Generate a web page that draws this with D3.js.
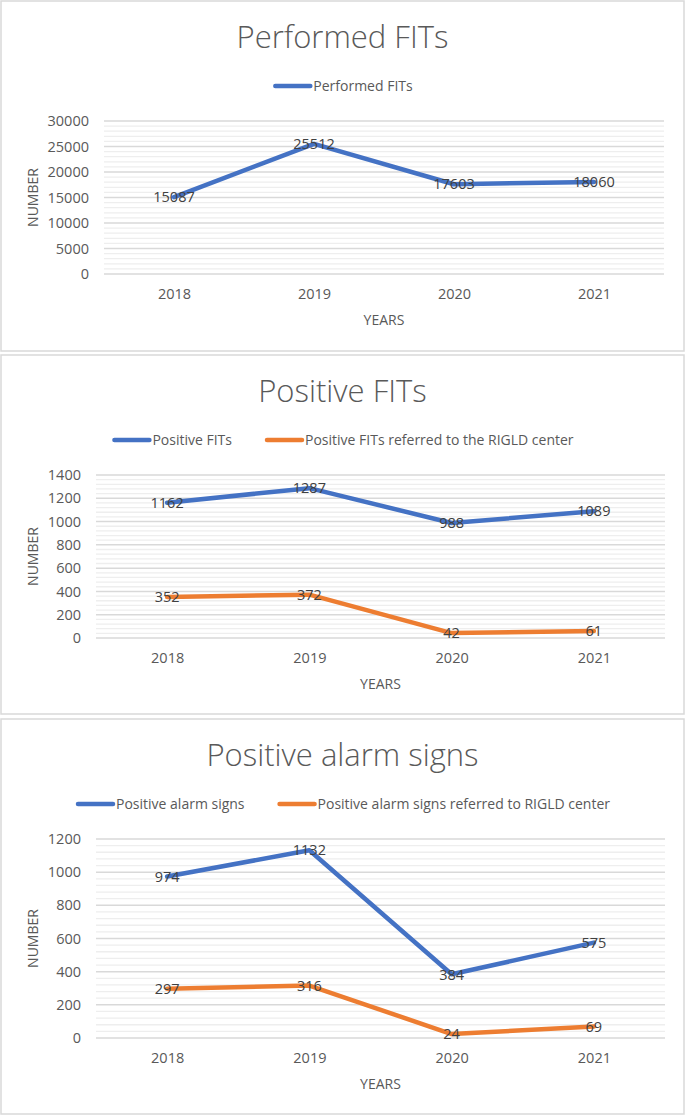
<!DOCTYPE html>
<html>
<head>
<meta charset="utf-8">
<script src="https://cdn.jsdelivr.net/npm/d3@7/dist/d3.min.js"></script>
<style>
  html, body { margin: 0; padding: 0; background: #ffffff; }
  svg { display: block; }
  text { font-family: "Open Sans", "DejaVu Sans", sans-serif; }
</style>
</head>
<body>
<svg id="chart" width="685" height="1116"></svg>
<script>
// ---------- data ----------
const years = ["2018", "2019", "2020", "2021"];

const performedFITs = [15087, 25512, 17603, 18060];

const positiveFITs = [1162, 1287, 988, 1089];
const positiveFITsReferred = [352, 372, 42, 61];

const alarmSigns = [974, 1132, 384, 575];
const alarmSignsReferred = [297, 316, 24, 69];

const ticksPerformed = [0, 5000, 10000, 15000, 20000, 25000, 30000];
const ticksPositive = [0, 200, 400, 600, 800, 1000, 1200, 1400];
const ticksAlarm = [0, 200, 400, 600, 800, 1000, 1200];

const titles = ["Performed FITs", "Positive FITs", "Positive alarm signs"];
const seriesNames1 = ["Performed FITs"];
const seriesNames2 = ["Positive FITs", "Positive FITs referred to the RIGLD center"];
const seriesNames3 = ["Positive alarm signs", "Positive alarm signs referred to RIGLD center"];

const xTitle = "YEARS";
const yTitle = "NUMBER";

// ---------- style ----------
const BLUE = "#4472C4", ORANGE = "#ED7D31";
const svg = d3.select("#chart");

function panel(cfg) {
  const g = svg.append("g");
  // frame
  g.append("rect")
    .attr("x", 1).attr("y", cfg.top)
    .attr("width", 683).attr("height", cfg.height)
    .attr("fill", "#fff").attr("stroke", "#d9d9d9").attr("stroke-width", 1.5);

  // title
  g.append("text")
    .attr("x", 342.5).attr("y", cfg.top + 47)
    .attr("text-anchor", "middle")
    .attr("font-size", 31).attr("font-weight", 300)
    .attr("fill", "#595959")
    .text(cfg.title);

  const x = d3.scalePoint().domain(years).range([cfg.x0, cfg.x1]).padding(0.5);
  const y = d3.scaleLinear().domain([0, cfg.ticks[cfg.ticks.length - 1]]).range([cfg.yBottom, cfg.yTop]);

  // minor gridlines
  const step = cfg.ticks[1] - cfg.ticks[0];
  const minor = d3.range(0, cfg.ticks[cfg.ticks.length - 1] + 1e-9, step / 5)
    .filter(v => !cfg.ticks.includes(v));
  g.append("g").selectAll("line").data(minor).join("line")
    .attr("x1", cfg.x0).attr("x2", cfg.x1)
    .attr("y1", d => y(d)).attr("y2", d => y(d))
    .attr("stroke", "#eeeeee").attr("stroke-width", 1.3);
  // major gridlines
  g.append("g").selectAll("line").data(cfg.ticks).join("line")
    .attr("x1", cfg.x0).attr("x2", cfg.x1)
    .attr("y1", d => y(d)).attr("y2", d => y(d))
    .attr("stroke", "#d9d9d9").attr("stroke-width", 1.5);

  // y axis labels
  const ya = g.append("g").attr("transform", `translate(${cfg.x0},0)`)
    .call(d3.axisLeft(y).tickValues(cfg.ticks).tickSize(0).tickPadding(cfg.x0 - cfg.labelRight).tickFormat(d3.format("d")));
  ya.select(".domain").remove();
  ya.selectAll("text").attr("font-size", 14.5).attr("fill", "#595959")
    .style("font-family", "'Open Sans', sans-serif");

  // x axis labels
  const xa = g.append("g").attr("transform", `translate(0,${cfg.yBottom})`)
    .call(d3.axisBottom(x).tickSize(0).tickPadding(15));
  xa.select(".domain").remove();
  xa.selectAll("text").attr("font-size", 14.5).attr("fill", "#595959")
    .style("font-family", "'Open Sans', sans-serif");

  // axis titles
  g.append("text")
    .attr("x", (cfg.x0 + cfg.x1) / 2).attr("y", cfg.yBottom + 51)
    .attr("text-anchor", "middle").attr("font-size", 14).attr("fill", "#595959")
    .text(xTitle);
  g.append("text")
    .attr("transform", `translate(38,${(cfg.yTop + cfg.yBottom) / 2}) rotate(-90)`)
    .attr("text-anchor", "middle").attr("font-size", 14).attr("fill", "#595959")
    .text(yTitle);

  // lines
  const line = d3.line().x((d, i) => x(years[i])).y(d => y(d));
  cfg.series.forEach((s, k) => {
    g.append("path").datum(s.values)
      .attr("d", line).attr("fill", "none")
      .attr("stroke", s.color).attr("stroke-width", 4.5)
      .attr("stroke-linejoin", "round").attr("stroke-linecap", "round");
  });
  // data labels
  cfg.series.forEach(s => {
    g.append("g").selectAll("text").data(s.values).join("text")
      .attr("x", (d, i) => x(years[i])).attr("y", d => y(d))
      .attr("dy", "0.36em").attr("text-anchor", "middle")
      .attr("font-size", 14.5).attr("fill", "#404040")
      .text(d => d);
  });

  // legend (centered)
  const lg = g.append("g");
  const ly = cfg.top + 85;
  let cx = 0;
  cfg.series.forEach((s, k) => {
    const it = lg.append("g");
    it.append("line").attr("x1", cx + 2).attr("x2", cx + 37).attr("y1", ly).attr("y2", ly)
      .attr("stroke", s.color).attr("stroke-width", 4.5).attr("stroke-linecap", "round");
    const t = it.append("text").attr("x", cx + 40).attr("y", ly).attr("dy", "0.35em")
      .attr("font-size", 14).attr("fill", "#595959").text(s.name);
    const w = t.node().getComputedTextLength();
    cx += 40 + w + 33;
  });
  const total = cx - 33;
  lg.attr("transform", `translate(${343 - total / 2},0)`);
}

panel({
  top: 1, height: 350, title: titles[0],
  x0: 104, x1: 664, yTop: 121, yBottom: 274, labelRight: 89,
  ticks: ticksPerformed,
  series: [{ name: seriesNames1[0], values: performedFITs, color: BLUE }]
});
panel({
  top: 355, height: 359, title: titles[1],
  x0: 96, x1: 665, yTop: 475, yBottom: 638, labelRight: 81,
  ticks: ticksPositive,
  series: [
    { name: seriesNames2[0], values: positiveFITs, color: BLUE },
    { name: seriesNames2[1], values: positiveFITsReferred, color: ORANGE }
  ]
});
panel({
  top: 719, height: 395, title: titles[2],
  x0: 96, x1: 665, yTop: 839, yBottom: 1038, labelRight: 81,
  ticks: ticksAlarm,
  series: [
    { name: seriesNames3[0], values: alarmSigns, color: BLUE },
    { name: seriesNames3[1], values: alarmSignsReferred, color: ORANGE }
  ]
});
</script>
</body>
</html>
